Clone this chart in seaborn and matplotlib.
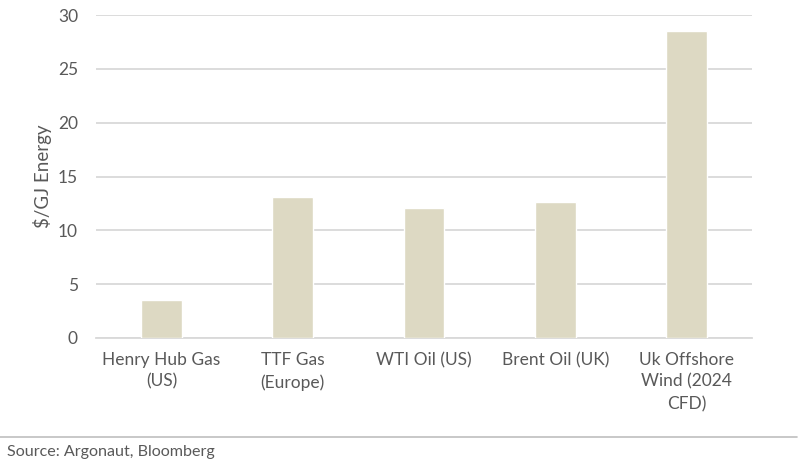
import matplotlib
matplotlib.use("Agg")
import matplotlib.pyplot as plt
from matplotlib.lines import Line2D
import seaborn as sns
import pandas as pd

categories = ["Henry Hub Gas\n(US)", "TTF Gas\n(Europe)", "WTI Oil (US)", "Brent Oil (UK)",
              "Uk Offshore\nWind (2024\nCFD)"]
values = [3.5, 13.1, 12.1, 12.6, 28.5]
y_ticks = [0, 5, 10, 15, 20, 25, 30]
y_label = "$/GJ Energy"
source_text = "Source: Argonaut, Bloomberg"

sns.set_theme(style="white")
plt.rcParams["font.family"] = ["Lato", "DejaVu Sans"]

TEXT = "#595959"
GRID = "#D9D9D9"
BAR = "#DDD9C3"

fig = plt.figure(figsize=(8.05, 4.70), dpi=100)
ax = fig.add_axes([96 / 805, 1 - 338 / 470, (752 - 96) / 805, (338 - 15) / 470])

df = pd.DataFrame({"cat": categories, "val": values})
sns.barplot(data=df, x="cat", y="val", color=BAR, width=0.31, saturation=1, ax=ax, zorder=3)

ax.set_ylim(0, 30)
ax.set_yticks(y_ticks)
ax.set_xlim(-0.5, len(categories) - 0.5)
ax.yaxis.grid(True, color=GRID, linewidth=1.3, zorder=0)
ax.set_axisbelow(True)
for s in ["top", "right", "left"]:
    ax.spines[s].set_visible(False)
ax.spines["bottom"].set_color(GRID)
ax.spines["bottom"].set_linewidth(1.3)
ax.tick_params(axis="both", length=0, colors=TEXT, labelsize=12.5)
ax.tick_params(axis="y", pad=13)
ax.tick_params(axis="x", pad=10)
for lab in ax.get_xticklabels():
    lab.set_linespacing(1.45)
ax.set_xlabel("")
ax.set_ylabel(y_label, color=TEXT, fontsize=13.5, labelpad=4)

fig.add_artist(Line2D([0, 797 / 805], [1 - 437 / 470, 1 - 437 / 470], color="#BFBFBF", linewidth=1.2,
                      transform=fig.transFigure))
fig.text(7 / 805, 1 - 452 / 470, source_text, color=TEXT, fontsize=11.6, va="center", ha="left")

fig.savefig("out.png", dpi=100)
